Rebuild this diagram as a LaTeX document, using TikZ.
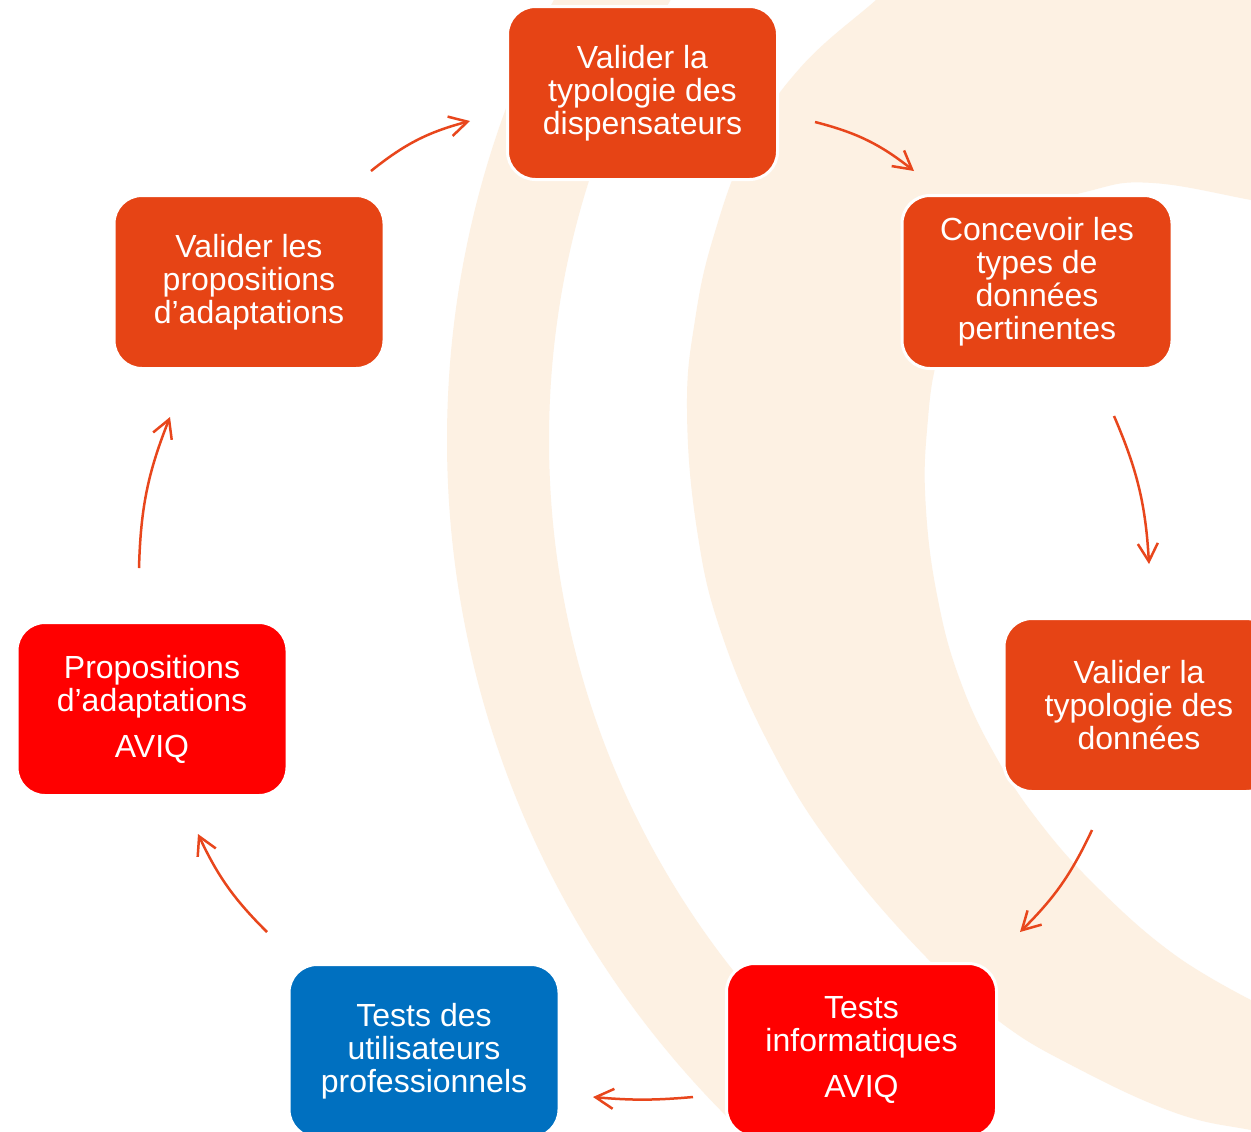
\documentclass[tikz,border=0pt]{standalone}
\usepackage{fontspec}
\setmainfont{Liberation Sans}
\usetikzlibrary{arrows.meta}
\definecolor{cream}{HTML}{FDF1E3}
\definecolor{boxorange}{HTML}{E64415}
\definecolor{boxred}{HTML}{FF0000}
\definecolor{boxblue}{HTML}{0070C0}
\definecolor{arrowc}{HTML}{E8461C}
\begin{document}
\begin{tikzpicture}[x=0.5pt,y=-0.5pt,
  stepbox/.style={draw=white, line width=1.5pt, rounded corners=14pt,
    minimum width=135pt, minimum height=86.5pt, inner sep=0pt,
    align=center, text=white, font=\fontsize{16}{16.5}\selectfont},
  orangebox/.style={stepbox, fill=boxorange},
  redbox/.style={stepbox, fill=boxred},
  bluebox/.style={stepbox, fill=boxblue},
  cyc/.style={draw=arrowc, line width=1.25pt,
    -{Straight Barb[length=9pt,width=10pt]}}
]
\useasboundingbox (0,0) rectangle (1251,1131);
\clip (0,0) rectangle (1251,1131);
\fill[white] (0,0) rectangle (1251,1131);
% background arcs
\fill[cream, even odd rule] (1405,440) circle[radius=958] (1405,440) circle[radius=856];
\fill[cream] plot[smooth,tension=0.7] coordinates {(910,-30) (876,0) (800,68) (748,145) (714,235) (695,320) (687,410) (697,530) (722,635) (772,750) (836,852) (926,957) (1000,1022) (1073,1066) (1173,1112) (1251,1130) (1320,1140)}
  -- (1320,1030)
  -- plot[smooth,tension=0.7] coordinates {(1251,1000) (1175,955) (1100,890) (1040,823) (995,755) (960,680) (938,600) (926,510) (927,430) (940,350) (975,275) (1030,215) (1093,190) (1153,183) (1251,200) (1320,214)}
  -- (1320,-30) -- cycle;
% boxes
\node[orangebox] (b1) at (642.5,93) {Valider la\\typologie des\\dispensateurs};
\node[orangebox] (b2) at (1037,282) {Concevoir les\\types de\\données\\pertinentes};
\node[orangebox] (b3) at (1139,705) {Valider la\\typologie des\\données};
\node[redbox] (b4) at (861.5,1050) {Tests\\informatiques\\[6.5pt]AVIQ};
\node[bluebox] (b5) at (424,1051) {Tests des\\utilisateurs\\professionnels};
\node[redbox] (b6) at (152,709) {Propositions\\d’adaptations\\[6.5pt]AVIQ};
\node[orangebox] (b7) at (249,282) {Valider les\\propositions\\d’adaptations};
% arrow end points
\coordinate (a1s) at (815,122); \coordinate (a1e) at (914,171);
\coordinate (a2s) at (1114,416); \coordinate (a2e) at (1149,564);
\coordinate (a3s) at (1092,830); \coordinate (a3e) at (1020,932);
\coordinate (a4s) at (693,1097); \coordinate (a4e) at (593,1097);
\coordinate (a5s) at (267,932); \coordinate (a5e) at (198,834);
\coordinate (a6s) at (139,568); \coordinate (a6e) at (170,417);
\coordinate (a7s) at (371,171); \coordinate (a7e) at (470,121);
\draw[cyc] (a1s) to[bend left=12] (a1e);
\draw[cyc] (a2s) to[bend left=10] (a2e);
\draw[cyc] (a3s) to[bend left=10] (a3e);
\draw[cyc] (a4s) to[bend left=5] (a4e);
\draw[cyc] (a5s) to[bend left=10] (a5e);
\draw[cyc] (a6s) to[bend left=10] (a6e);
\draw[cyc] (a7s) to[bend left=12] (a7e);
\end{tikzpicture}
\end{document}
